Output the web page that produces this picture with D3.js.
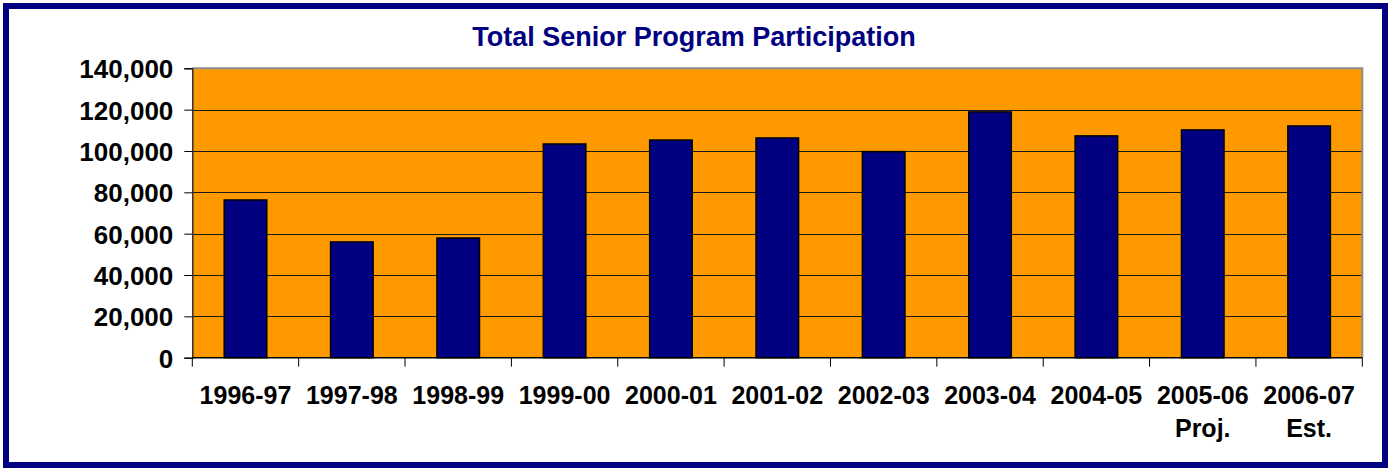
<!DOCTYPE html>
<html>
<head>
<meta charset="utf-8">
<script src="https://cdn.jsdelivr.net/npm/d3@7"></script>
<style>
  html, body { margin: 0; padding: 0; background: #fff; }
  svg { display: block; font-family: Arial, "Liberation Sans", sans-serif; }
</style>
</head>
<body>
<div id="chart"></div>
<script>
const title = "Total Senior Program Participation";
const categories = ["1996-97", "1997-98", "1998-99", "1999-00", "2000-01", "2001-02",
                    "2002-03", "2003-04", "2004-05", "2005-06", "2006-07"];
const categoryNotes = ["", "", "", "", "", "", "", "", "", "Proj.", "Est."];
const participants = [76300, 56000, 57900, 103400, 105300, 106300, 99700, 118900, 107300, 110200, 112100];
const yTicks = [0, 20000, 40000, 60000, 80000, 100000, 120000, 140000];

const width = 1388, height = 468;
const plot = { left: 192.3, right: 1362.3, top: 68.3, bottom: 357.7 };

const svg = d3.select("#chart")
    .append("svg")
    .attr("width", width)
    .attr("height", height);

// outer frame
svg.append("rect")
    .attr("x", 6).attr("y", 6)
    .attr("width", width - 9).attr("height", height - 9)
    .attr("fill", "#fff")
    .attr("stroke", "#000080")
    .attr("stroke-width", 6);

svg.append("text")
    .attr("x", 694).attr("y", 46)
    .attr("text-anchor", "middle")
    .style("font-size", "27px")
    .style("font-weight", "bold")
    .style("fill", "#000080")
    .text(title);

const x = d3.scaleBand()
    .domain(categories)
    .range([plot.left, plot.right])
    .padding(0);

const y = d3.scaleLinear()
    .domain([0, 140000])
    .range([plot.bottom, plot.top]);

// plot background
svg.append("rect")
    .attr("x", plot.left).attr("y", plot.top)
    .attr("width", plot.right - plot.left)
    .attr("height", plot.bottom - plot.top)
    .attr("fill", "#ff9900");

// gridlines
svg.append("g")
    .selectAll("line")
    .data(yTicks.filter(d => d > 0 && d < 140000))
    .join("line")
    .attr("x1", plot.left).attr("x2", plot.right)
    .attr("y1", d => Math.round(y(d)) + 0.5).attr("y2", d => Math.round(y(d)) + 0.5)
    .attr("stroke", "#1a1a1a")
    .attr("stroke-width", 1);

// plot border top / right in grey
svg.append("path")
    .attr("d", `M${plot.left},${plot.top}H${plot.right}V${plot.bottom}`)
    .attr("fill", "none")
    .attr("stroke", "#8c8c8c")
    .attr("stroke-width", 2);

// bars
const barW = x.bandwidth() * 0.4;
svg.append("g")
    .selectAll("rect")
    .data(participants)
    .join("rect")
    .attr("x", (d, i) => x(categories[i]) + (x.bandwidth() - barW) / 2)
    .attr("y", d => y(d))
    .attr("width", barW)
    .attr("height", d => y(0) - y(d))
    .attr("fill", "#000080")
    .attr("stroke", "#000")
    .attr("stroke-width", 1.5);

// y axis
const yAxis = svg.append("g")
    .attr("transform", `translate(${plot.left},0)`)
    .call(d3.axisLeft(y).tickValues(yTicks).tickFormat(d3.format(",")).tickSize(8).tickPadding(11));
yAxis.select(".domain").attr("stroke", "#333").attr("stroke-width", 1.5);
yAxis.selectAll(".tick line").attr("stroke", "#000");
yAxis.selectAll("text")
    .style("font-size", "26px")
    .style("font-weight", "bold")
    .style("fill", "#000")
    .attr("dy", "0.36em");

// x axis baseline and boundary ticks
svg.append("line")
    .attr("x1", plot.left).attr("x2", plot.right)
    .attr("y1", plot.bottom).attr("y2", plot.bottom)
    .attr("stroke", "#000").attr("stroke-width", 1.5);

const bounds = categories.map(c => x(c)).concat([plot.right]);
svg.append("g")
    .selectAll("line")
    .data(bounds)
    .join("line")
    .attr("x1", d => d).attr("x2", d => d)
    .attr("y1", plot.bottom).attr("y2", plot.bottom + 9)
    .attr("stroke", "#000").attr("stroke-width", 1);

const xl = svg.append("g")
    .selectAll("text")
    .data(categories)
    .join("text")
    .attr("x", d => x(d) + x.bandwidth() / 2)
    .attr("y", 404)
    .attr("text-anchor", "middle")
    .style("font-size", "25px")
    .style("font-weight", "bold")
    .style("fill", "#000");
xl.append("tspan").text(d => d);
xl.append("tspan")
    .attr("x", d => x(d) + x.bandwidth() / 2)
    .attr("dy", 33)
    .text((d, i) => categoryNotes[i]);
</script>
</body>
</html>
